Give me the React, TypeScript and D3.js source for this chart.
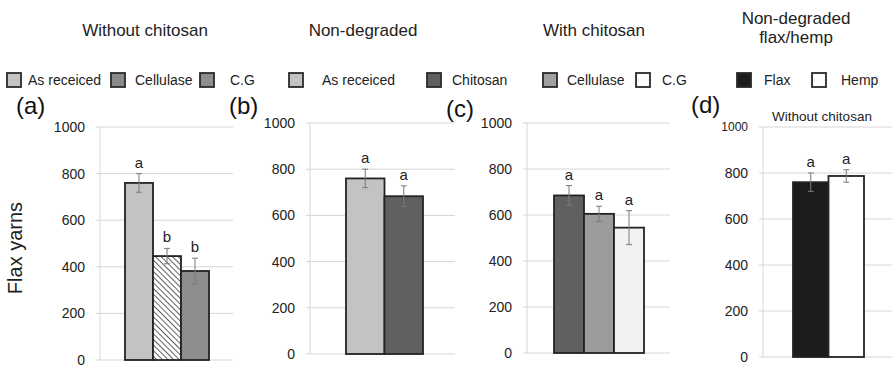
import { useMemo } from 'react';
import * as d3 from 'd3';

// values (tensile strength-ish, arbitrary units)
const panelALabels = ['As receiced', 'Cellulase', 'C.G'];
const panelAValues = [760, 446, 382];
const panelAErrors = [40, 33, 55];
const panelALetters = ['a', 'b', 'b'];

const panelBLabels = ['As receiced', 'Chitosan'];
const panelBValues = [760, 683];
const panelBErrors = [40, 45];
const panelBLetters = ['a', 'a'];

const panelCLabels = ['Chitosan', 'Cellulase', 'C.G'];
const panelCValues = [685, 605, 545];
const panelCErrors = [43, 33, 74];
const panelCLetters = ['a', 'a', 'a'];

const panelDLabels = ['Flax', 'Hemp'];
const panelDValues = [760, 787];
const panelDErrors = [40, 27];
const panelDLetters = ['a', 'a'];

const yTicks = [0, 200, 400, 600, 800, 1000];

const FONT = '"Liberation Sans", Arial, sans-serif';

type Panel = {
  tag: string;
  title: string[];
  sub?: string;
  labels: string[];
  values: number[];
  errors: number[];
  letters: string[];
  fills: string[];
  legendFills: string[];
  legendSkip: number; // legend entries shown from this index on
  // layout
  axisX: number;
  gridRight: number;
  yTop: number;
  yBottom: number;
  barX0: number;
  barX1: number;
  titleX: number;
  tagX: number;
  tagY: number;
  legendX: number[]; // square left edges
  legendTextX: number[];
};

const panels: Panel[] = [
  {
    tag: '(a)', title: ['Without chitosan'],
    labels: panelALabels, values: panelAValues, errors: panelAErrors, letters: panelALetters,
    fills: ['#c3c3c3', 'url(#hatch)', '#8d8d8d'],
    legendFills: ['#c3c3c3', '#8a8a8a', '#8d8d8d'], legendSkip: 0,
    axisX: 100, gridRight: 233, yTop: 127, yBottom: 360, barX0: 125, barX1: 209,
    titleX: 145, tagX: 16, tagY: 114,
    legendX: [7, 111, 200], legendTextX: [28, 135, 230],
  },
  {
    tag: '(b)', title: ['Non-degraded'],
    labels: panelBLabels, values: panelBValues, errors: panelBErrors, letters: panelBLetters,
    fills: ['#c3c3c3', '#606060'],
    legendFills: ['#c3c3c3', '#606060'], legendSkip: 0,
    axisX: 310, gridRight: 455, yTop: 123, yBottom: 354, barX0: 346, barX1: 423,
    titleX: 363, tagX: 229, tagY: 114,
    legendX: [289, 427], legendTextX: [322, 452],
  },
  {
    tag: '(c)', title: ['With chitosan'],
    labels: panelCLabels, values: panelCValues, errors: panelCErrors, letters: panelCLetters,
    fills: ['#606060', '#9b9b9b', '#f2f2f2'],
    legendFills: ['#606060', '#a0a0a0', '#ffffff'], legendSkip: 1,
    axisX: 527, gridRight: 670, yTop: 123, yBottom: 353, barX0: 554, barX1: 644,
    titleX: 594, tagX: 446, tagY: 117,
    legendX: [0, 543, 636], legendTextX: [0, 567, 662],
  },
  {
    tag: '(d)', title: ['Non-degraded', 'flax/hemp'], sub: 'Without chitosan',
    labels: panelDLabels, values: panelDValues, errors: panelDErrors, letters: panelDLetters,
    fills: ['#1c1c1c', '#ffffff'],
    legendFills: ['#1c1c1c', '#ffffff'], legendSkip: 0,
    axisX: 763, gridRight: 892, yTop: 127, yBottom: 357, barX0: 793, barX1: 864,
    titleX: 796, tagX: 691, tagY: 113,
    legendX: [737, 812], legendTextX: [764, 841],
  },
];

function BarPanel({ p }: { p: Panel }) {
  const y = useMemo(() => d3.scaleLinear().domain([0, 1000]).range([p.yBottom, p.yTop]), [p]);
  const x = useMemo(() => d3.scaleBand<string>().domain(p.labels).range([p.barX0, p.barX1]).padding(0), [p]);
  const isD = p.tag === '(d)';

  return (
    <g>
      {/* title */}
      {p.title.map((t, i) => (
        <text key={t} x={p.titleX} y={p.title.length > 1 ? 24 + i * 19 : 36}
          textAnchor="middle" fontSize={17} fill="#222">{t}</text>
      ))}

      {/* legend */}
      {p.labels.map((l, i) => i < p.legendSkip ? null : (
        <g key={l}>
          <rect x={p.legendX[i]} y={73} width={14} height={14} fill={p.legendFills[i]}
            stroke="#2a2a2a" strokeWidth={1.8} />
          <text x={p.legendTextX[i]} y={85} fontSize={14} fill="#222">{l}</text>
        </g>
      ))}

      <text x={p.tagX} y={p.tagY} fontSize={24} fill="#111">{p.tag}</text>
      {p.sub && (
        <text x={822} y={121} textAnchor="middle" fontSize={13.5} fill="#222">{p.sub}</text>
      )}

      {/* grid + axis */}
      {yTicks.map(t => (
        <g key={t}>
          <line x1={p.axisX - 4} x2={p.gridRight} y1={y(t)} y2={y(t)} stroke="#d6d6d6" strokeWidth={1} />
          <text x={p.axisX - 15} y={y(t)} dy="0.35em" textAnchor="end"
            fontSize={isD && t === 1000 ? 12 : 14} fill="#222">{t}</text>
        </g>
      ))}
      <line x1={p.axisX} x2={p.axisX} y1={p.yTop} y2={p.yBottom} stroke="#d6d6d6" strokeWidth={1} />

      {/* bars */}
      {p.labels.map((l, i) => {
        const bx = x(l)!;
        const bw = x.bandwidth();
        const cx = bx + bw / 2;
        const v = p.values[i];
        const e = p.errors[i];
        return (
          <g key={l}>
            <rect x={bx} y={y(v)} width={bw} height={p.yBottom - y(v)} fill={p.fills[i]}
              stroke="#232323" strokeWidth={1.8} />
            <line x1={cx} x2={cx} y1={y(v + e)} y2={y(v - e)} stroke="#7a7a7a" strokeWidth={1} />
            <line x1={cx - 3} x2={cx + 3} y1={y(v + e)} y2={y(v + e)} stroke="#7a7a7a" strokeWidth={1} />
            <line x1={cx - 3} x2={cx + 3} y1={y(v - e)} y2={y(v - e)} stroke="#7a7a7a" strokeWidth={1} />
            <text x={cx} y={y(v + e) - 6} textAnchor="middle" fontSize={15} fill="#222">{p.letters[i]}</text>
          </g>
        );
      })}
    </g>
  );
}

export default function App() {
  return (
    <div style={{ position: 'fixed', left: 0, top: 0 }}>
      <svg width={892} height={366} style={{ display: 'block', background: '#fff', fontFamily: FONT }}>
        <defs>
          <pattern id="hatch" patternUnits="userSpaceOnUse" width={4} height={4}
            patternTransform="rotate(-45)">
            <rect width={4} height={4} fill="#fff" />
            <line x1={0} y1={0} x2={0} y2={4} stroke="#3a3a3a" strokeWidth={1.6} />
          </pattern>
        </defs>
        {panels.map(p => <BarPanel key={p.tag} p={p} />)}
        <text transform="translate(22,248) rotate(-90)" textAnchor="middle" fontSize={20} fill="#222">
          Flax yarns
        </text>
      </svg>
    </div>
  );
}
